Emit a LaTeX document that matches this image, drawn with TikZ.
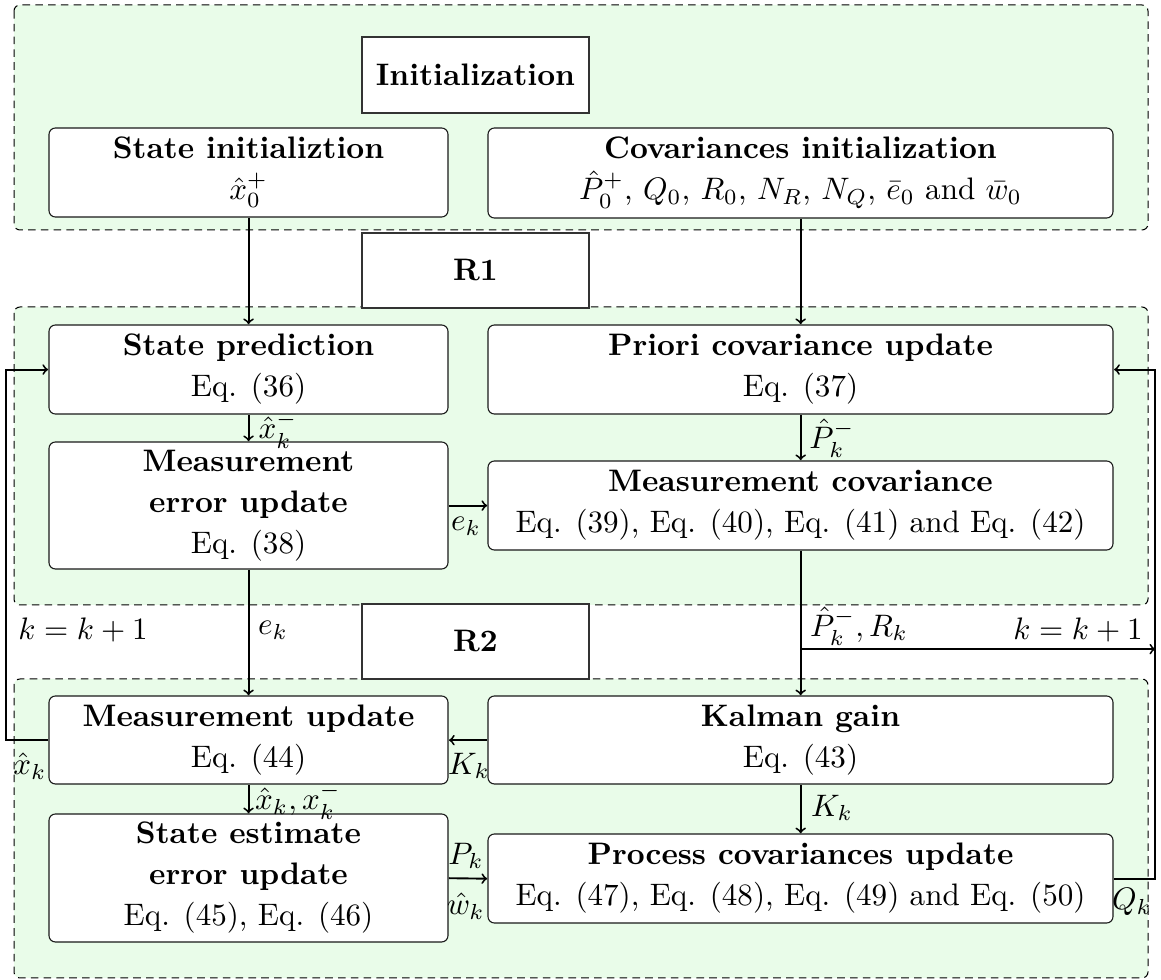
\RequirePackage{fix-cm}
\documentclass[tikz,border=0pt]{standalone}
\definecolor{regiongreen}{RGB}{233,252,233}
\newcommand{\boxfont}{\fontsize{10}{13.2}\selectfont}
\begin{document}
\begin{tikzpicture}[
  x=0.32175pt, y=-0.32175pt, scale=1.554,
  every node/.append style={transform shape},
  region/.style={draw=black, dash pattern=on 3.8pt off 2.6pt, fill=regiongreen,
                 rounded corners=3pt, line width=0.5pt},
  stagebox/.style={draw=black!80, fill=white, line width=0.55pt, inner sep=0pt,
                   minimum width=73.04pt, font=\boxfont\bfseries},
  procbox/.style={draw=black!90, fill=white, rounded corners=3.2pt, line width=0.55pt,
                  inner sep=0pt, align=center, font=\boxfont},
  leftbox/.style={procbox, minimum width=128.38pt},
  rightbox/.style={procbox, minimum width=201.1pt},
  flow/.style={->, line width=0.95pt},
  lbl/.style={inner sep=0pt, font=\boxfont}
]
\useasboundingbox (0,0) rectangle (1161,980);

% dashed stage regions
\draw[region] (14,5) rectangle (1148,230);
\draw[region] (14,307) rectangle (1148,605);
\draw[region] (14,679) rectangle (1148,978);

% stage titles
\node[stagebox, minimum height=24.45pt] (init) at (475.5,75) {Initialization};
\node[stagebox, minimum height=24.13pt] (r1) at (475.5,270.5) {R1};
\node[stagebox, minimum height=24.13pt] (r2) at (475.5,641.5) {R2};

% initialization
\node[leftbox, minimum height=28.64pt] (sinit) at (248.5,172.5)
  {\textbf{State initializtion}\\ $\hat{x}_0^+$};
\node[rightbox, minimum height=28.96pt] (cinit) at (800.5,173)
  {\textbf{Covariances initialization}\\ ${\hat{P}_0}^+$, $Q_0$, $R_0$, $N_R$, $N_Q$, $\bar{e}_0$ and $\bar{w}_0$};

% R1
\node[leftbox, minimum height=28.64pt] (spred) at (248.5,369.5)
  {\textbf{State prediction}\\ Eq. (36)};
\node[rightbox, minimum height=28.64pt] (pcov) at (800.5,369.5)
  {\textbf{Priori covariance update}\\ Eq. (37)};
\node[leftbox, minimum height=40.86pt] (merr) at (248.5,505.5)
  {\textbf{Measurement}\\ \textbf{error update}\\ Eq. (38)};
\node[rightbox, minimum height=28.64pt] (mcov) at (800.5,505.5)
  {\textbf{Measurement covariance}\\ Eq. (39), Eq. (40), Eq. (41) and Eq. (42)};

% R2
\node[leftbox, minimum height=28.31pt] (mupd) at (248.5,740)
  {\textbf{Measurement update}\\ Eq. (44)};
\node[rightbox, minimum height=28.31pt] (kgain) at (800.5,740)
  {\textbf{Kalman gain}\\ Eq. (43)};
\node[leftbox, minimum height=41.18pt] (serr) at (248.5,878)
  {\textbf{State estimate}\\ \textbf{error update}\\ Eq. (45), Eq. (46)};
\node[rightbox, minimum height=28.64pt] (pcu) at (800.5,878.5)
  {\textbf{Process covariances update}\\ Eq. (47), Eq. (48), Eq. (49) and Eq. (50)};

% routing points
\coordinate (lrail) at (6,740);
\coordinate (rrail) at (1155,878.5);
\coordinate (split) at (800.5,649);
\coordinate (splitend) at (1155,649);

% connectors
\draw[flow] (sinit.south) -- (spred.north);
\draw[flow] (cinit.south) -- (pcov.north);
\draw[flow] (spred.south) -- (merr.north);
\draw[flow] (pcov.south) -- (mcov.north);
\draw[flow] (merr.east) -- (mcov.west);
\draw[flow] (merr.south) -- (mupd.north);
\draw[flow] (mcov.south) -- (kgain.north);
\draw[flow] (split) -- (splitend);
\draw[flow] (kgain.west) -- (mupd.east);
\draw[flow] (kgain.south) -- (pcu.north);
\draw[flow] (mupd.south) -- (serr.north);
\draw[flow] (serr.east) -- (pcu.west);
\draw[flow] (mupd.west) -- (lrail) |- (spred.west);
\draw[flow] (pcu.east) -- (rrail) |- (pcov.east);

% connector labels
\node[lbl] (lxm) at (278,430) {$\hat{x}_k^-$};
\node[lbl] (lpm) at (832,438) {$\hat{P}_k^-$};
\node[lbl] (lek1) at (466,526) {$e_k$};
\node[lbl] (lek2) at (273,630) {$e_k$};
\node[lbl] (lkl) at (83,630) {$k=k+1$};
\node[lbl] (lpr) at (859,626) {$\hat{P}_k^-, R_k$};
\node[lbl] (lkr) at (1078,630) {$k=k+1$};
\node[lbl] (lxk) at (30,766) {$\hat{x}_k$};
\node[lbl] (lkh) at (469,766) {$K_k$};
\node[lbl] (lxx) at (298,801) {$\hat{x}_k, x_k^-$};
\node[lbl] (lkv) at (832,808) {$K_k$};
\node[lbl] (lpk) at (466,856) {$P_k$};
\node[lbl] (lwk) at (466,906) {$\hat{w}_k$};
\node[lbl] (lqk) at (1132,902) {$Q_k$};
\end{tikzpicture}
\end{document}
